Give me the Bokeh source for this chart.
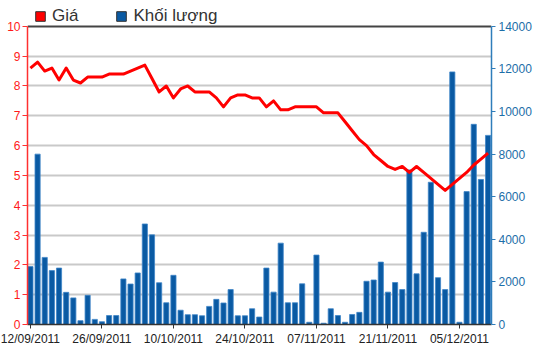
import pandas as pd
from bokeh.plotting import figure
from bokeh.models import (Range1d, LinearAxis, FixedTicker, Legend, LegendItem,
                          ColumnDataSource, Grid)
from bokeh.embed import file_html
from bokeh.resources import INLINE

# ---- data -------------------------------------------------------------
dates = [d.strftime("%d/%m/%Y") for d in pd.bdate_range("2011-09-12", periods=65)]

price = [8.6, 8.8, 8.5, 8.6, 8.2, 8.6, 8.2, 8.1, 8.3, 8.3,
         8.3, 8.4, 8.4, 8.4, 8.5, 8.6, 8.7, 8.25, 7.8, 8.0,
         7.6, 7.9, 8.0, 7.8, 7.8, 7.8, 7.6, 7.3, 7.6, 7.7,
         7.7, 7.6, 7.6, 7.3, 7.5, 7.2, 7.2, 7.3, 7.3, 7.3,
         7.3, 7.1, 7.1, 7.1, 6.8, 6.5, 6.2, 6.0, 5.7, 5.5,
         5.3, 5.2, 5.3, 5.1, 5.3, 5.1, 4.9, 4.7, 4.5, 4.7,
         4.9, 5.1, 5.35, 5.55, 5.75]

volume = [2720, 8000, 3150, 2530, 2650, 1510, 1250, 180, 1370, 240,
          130, 420, 420, 2140, 1900, 2420, 4720, 4210, 1960, 1020,
          2310, 670, 460, 460, 410, 850, 1180, 1010, 1640, 410,
          410, 740, 350, 2650, 1520, 3820, 1020, 1020, 1910, 105,
          3260, 60, 740, 420, 105, 470, 570, 2030, 2090, 2930,
          1520, 1970, 1640, 7260, 2380, 4330, 6680, 2200, 1640, 11860,
          105, 6240, 9400, 6810, 8880]

price_ticks = [0, 1, 2, 3, 4, 5, 6, 7, 8, 9, 10]
volume_ticks = [0, 2000, 4000, 6000, 8000, 10000, 12000, 14000]
date_tick_idx = [0, 10, 20, 30, 40, 50, 60]
series_names = ["Giá", "Khối lượng"]

# ---- figure -----------------------------------------------------------
FONT = "Liberation Sans"
PRICE_MAX, VOL_MAX = price_ticks[-1], volume_ticks[-1]
HEADROOM = 1.08  # extra room above the plot for the legend
idx = list(range(len(price)))
src = ColumnDataSource(dict(x=idx, price=price, volume=volume, date=dates))

p = figure(width=534, height=348, output_backend="svg", toolbar_location=None,
           x_range=Range1d(-0.41, 64.48), y_range=Range1d(0, PRICE_MAX * HEADROOM),
           min_border_left=27, min_border_right=40, min_border_top=2,
           min_border_bottom=21, background_fill_color="white",
           border_fill_color="white", outline_line_color=None)
p.extra_y_ranges = {"vol": Range1d(0, VOL_MAX * HEADROOM)}

p.xgrid.visible = False
p.ygrid.grid_line_color = "#c9c9c9"
p.ygrid.grid_line_width = 2
p.ygrid.ticker = FixedTicker(ticks=price_ticks[:-1])

# top border of the plot area (dark line at the top value)
p.add_layout(Grid(dimension=1, ticker=FixedTicker(ticks=[PRICE_MAX]),
                  grid_line_color="#444444", grid_line_width=2))

# bars
p.vbar(x="x", top="volume", width=0.72, source=src, y_range_name="vol",
       fill_color="#0a5aa3", line_color="#3f85c8", line_width=0.8)
# price line
p.line(x="x", y="price", source=src, line_color="#ff0000", line_width=3,
       line_join="round")

# left axis (price)
la = p.yaxis[0]
la.ticker = FixedTicker(ticks=price_ticks)
la.bounds = (0, PRICE_MAX)
la.axis_line_color = "#ff3030"
la.axis_line_width = 1.5
la.major_tick_line_color = "#ff3030"
la.major_tick_out = 5
la.major_tick_in = 0
la.minor_tick_line_color = None
la.major_label_text_color = "#ff1a1a"
la.major_label_text_font = FONT
la.major_label_text_font_size = "12px"
la.major_label_standoff = 2

# right axis (volume)
ra = LinearAxis(y_range_name="vol", ticker=FixedTicker(ticks=volume_ticks))
ra.bounds = (0, VOL_MAX)
ra.axis_line_color = "#2f7dba"
ra.axis_line_width = 1.5
ra.major_tick_line_color = "#2f7dba"
ra.major_tick_out = 4
ra.major_tick_in = 0
ra.minor_tick_line_color = None
ra.major_label_text_color = "#1c6ea8"
ra.major_label_text_font = FONT
ra.major_label_text_font_size = "12px"
ra.major_label_standoff = 3
p.add_layout(ra, "right")

# bottom axis (dates)
xa = p.xaxis[0]
xa.ticker = FixedTicker(ticks=date_tick_idx)
xa.major_label_overrides = {i: dates[i] for i in date_tick_idx}
xa.axis_line_color = "#333333"
xa.axis_line_width = 1.5
xa.major_tick_line_color = "#333333"
xa.major_tick_out = 4
xa.major_tick_in = 0
xa.minor_tick_line_color = None
xa.major_label_text_color = "#222222"
xa.major_label_text_font = FONT
xa.major_label_text_font_size = "12px"
xa.major_label_standoff = 3

# legend (square swatches; one non-drawn NaN row so the swatch is painted)
nan = float("nan")
r_price_sw = p.vbar(x=[nan], top=[nan], width=0.5, fill_color="#ff0000",
                    line_color="#333333", line_width=1)
r_vol_sw = p.vbar(x=[nan], top=[nan], width=0.5, fill_color="#0a5aa3",
                  line_color="#333333", line_width=1)
legend = Legend(items=[LegendItem(label=series_names[0], renderers=[r_price_sw]),
                       LegendItem(label=series_names[1], renderers=[r_vol_sw])],
                orientation="horizontal", location=(7, 298),
                border_line_color=None, background_fill_alpha=0,
                padding=0, margin=0, spacing=37,
                glyph_width=12, glyph_height=12, label_standoff=6,
                label_text_font=FONT, label_text_font_size="17px",
                label_text_color="#333333")
p.add_layout(legend, "center")

open("out.html", "w").write(file_html(p, INLINE))
